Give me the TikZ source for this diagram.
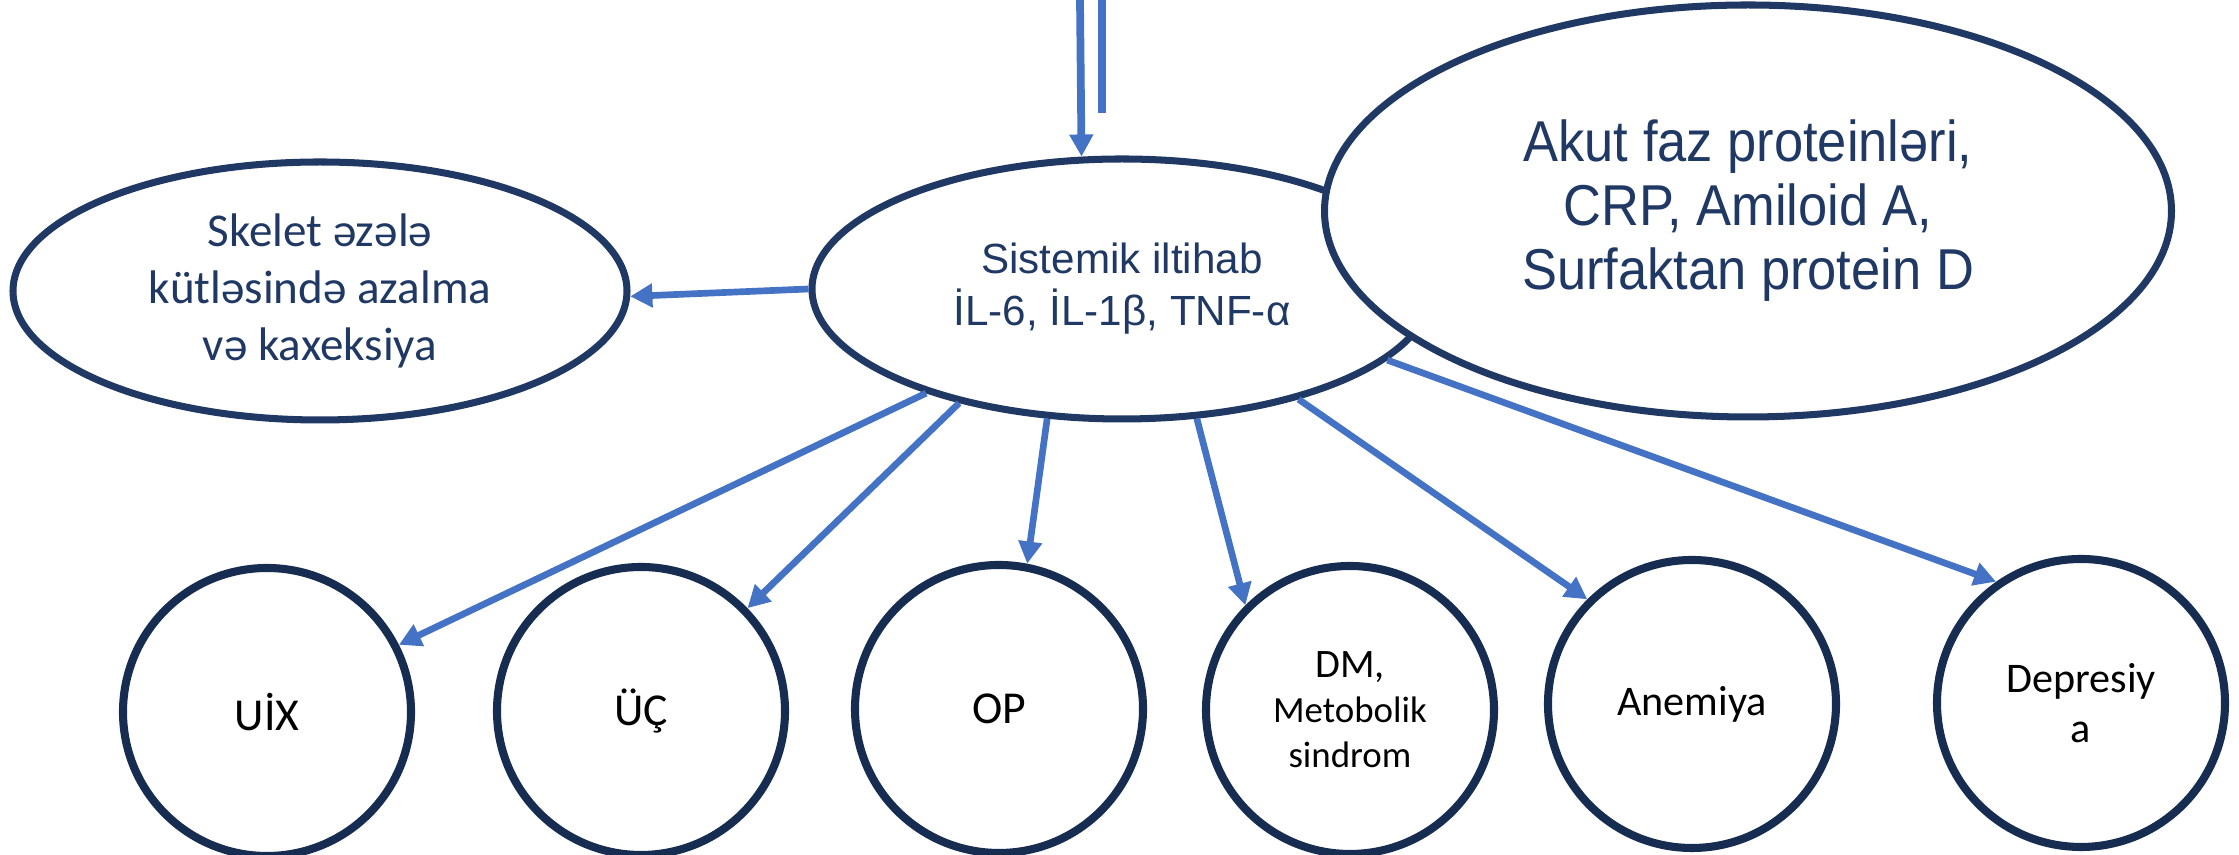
\documentclass[tikz,border=0pt]{standalone}
\usepackage{fontspec}
\newfontfamily\arialfont{Liberation Sans}
\newfontfamily\arialnarrow[FakeStretch=0.91]{Liberation Sans}
\newfontfamily\calfont{Carlito}
\usetikzlibrary{shapes.geometric,arrows.meta}
\definecolor{navy}{HTML}{203864}
\definecolor{darknavy}{HTML}{172C51}
\definecolor{arrowblue}{HTML}{4472C4}
\tikzset{
  oval/.style={ellipse,draw=navy,line width=2pt,fill=white,inner sep=0pt,text=navy,align=center},
  disease/.style={circle,draw=darknavy,line width=2.3pt,fill=white,minimum size=2.88cm,inner sep=0pt,align=center,font=\calfont\fontsize{13}{15.8}\selectfont},
  link/.style={draw=arrowblue,line width=1.9pt,-{Triangle[width=6.5pt,length=6.3pt]}}
}
\begin{document}
\begin{tikzpicture}
\useasboundingbox (0,0) rectangle (22.39,8.55);
%\draw[step=1cm,gray,very thin] (0,0) grid (22.39,8.55);
\node[oval,minimum width=6.14cm,minimum height=2.58cm,font=\calfont\fontsize{13.4}{16.1}\selectfont] (skel) at (3.20,5.64) {Skelet əzələ\\kütləsində azalma\\və kaxeksiya};
\node[oval,minimum width=6.20cm,minimum height=2.60cm,font=\arialfont\fontsize{12}{14.8}\selectfont] (sys) at (11.22,5.66) {Sistemik iltihab\\İL-6, İL-1β, TNF-α};
\node[oval,minimum width=8.47cm,minimum height=4.12cm,font=\arialnarrow\fontsize{16.4}{18.2}\selectfont] (akut) at (17.48,6.44) {Akut faz proteinləri,\\CRP, Amiloid A,\\Surfaktan protein D};
\node[disease] (uix) at (2.67,1.43) {UİX};
\node[disease] (uc) at (6.41,1.44) {ÜÇ};
\node[disease] (op) at (9.99,1.46) {OP};
\node[disease,font=\calfont\fontsize{10.5}{12.8}\selectfont] (dm) at (13.50,1.45) {{\fontsize{11.5}{12.8}\selectfont DM,}\\Metobolik\\sindrom};
\node[disease,font=\calfont\fontsize{12}{14.5}\selectfont] (anem) at (16.92,1.51) {Anemiya};
\node[disease,font=\calfont\fontsize{12}{14.2}\selectfont] (depr) at (20.81,1.52) {Depresiy\\a};
% input from above
\coordinate (in1) at (10.80,8.55);
\coordinate (in2) at (11.02,8.55);
\coordinate (in2e) at (11.02,7.42);
\draw[link,line width=2.2pt] (in1) -- (sys.107.6);
\draw[draw=arrowblue,line width=2.4pt] (in2) -- (in2e);
\draw[link] (sys.west) -- (skel.359.2);
\draw[link] (sys.208) -- (uix.27.5);
\draw[link] (sys.215.9) -- (uc.44.1);
\draw[link] (sys.240.4) -- (op.79.2);
\draw[link] (sys.300.9) -- (dm.135);
\draw[link] (sys.328.9) -- (anem.135.3);
\draw[link] (sys.345.2) -- (depr.125.9);
\end{tikzpicture}
\end{document}
